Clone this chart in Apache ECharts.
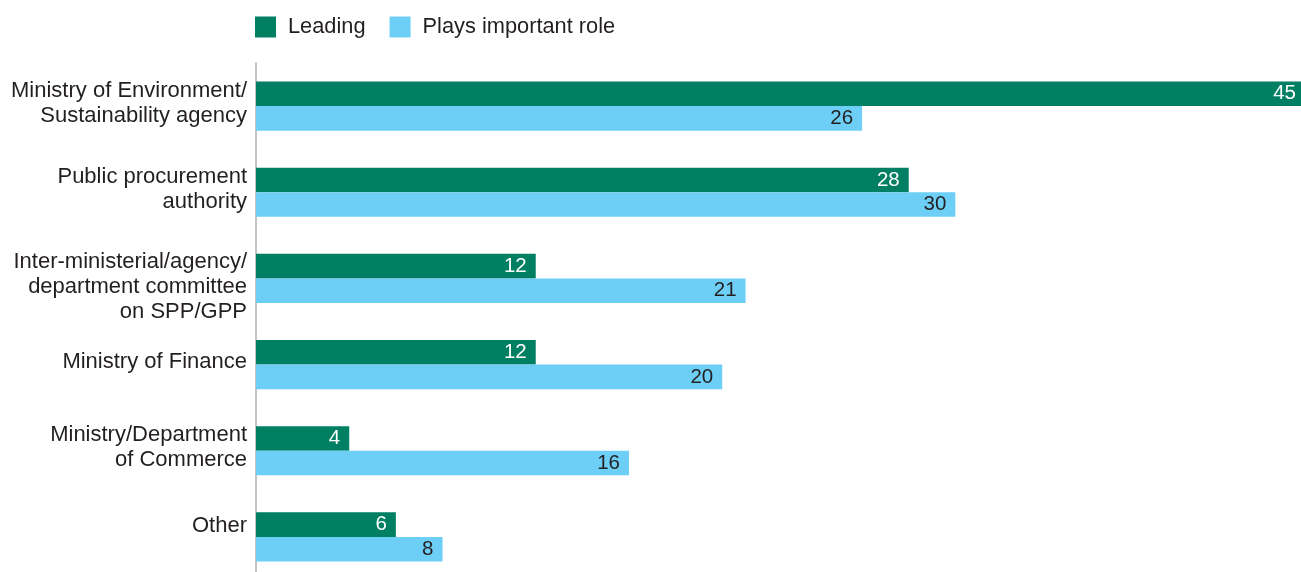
<!DOCTYPE html>
<html>
<head>
<meta charset="utf-8">
<script src="https://cdn.jsdelivr.net/npm/echarts@6/dist/echarts.min.js"></script>
<style>
html,body{margin:0;padding:0;background:#fff;}
#chart{width:1301px;height:572px;}
</style>
</head>
<body>
<div id="chart"></div>
<script>
const categories = [
  'Ministry of Environment/\nSustainability agency',
  'Public procurement\nauthority',
  'Inter-ministerial/agency/\ndepartment committee\non SPP/GPP',
  'Ministry of Finance',
  'Ministry/Department\nof Commerce',
  'Other'
];
const leading = [45, 28, 12, 12, 4, 6];
const important = [26, 30, 21, 20, 16, 8];
const seriesNames = ['Leading', 'Plays important role'];

const FONT = "'Liberation Sans', Arial, Helvetica, sans-serif";
const chart = echarts.init(document.getElementById('chart'));
chart.setOption({
  animation: false,
  legend: {
    top: 16,
    left: 255,
    padding: 0,
    itemWidth: 21,
    itemHeight: 21,
    itemGap: 24,
    icon: 'rect',
    textStyle: { fontFamily: FONT, fontSize: 21.8, color: '#231f20', padding: [0, 0, 0, 7] },
    data: seriesNames
  },
  grid: { left: 256, top: 63, width: 1049, height: 517, containLabel: false, outerBoundsMode: 'none' },
  xAxis: {
    type: 'value', min: 0, max: 45,
    show: false
  },
  yAxis: {
    type: 'category',
    data: categories,
    inverse: true,
    axisLine: { show: true, lineStyle: { color: '#c2c2c8', width: 2 } },
    axisTick: { show: false },
    axisLabel: {
      fontFamily: FONT, fontSize: 22, color: '#231f20', margin: 9,
      lineHeight: 25, align: 'right', padding: [0, 0, 6, 0],
      formatter: function (v) {
        if (v === 'Other') return '{o|' + v + '}';
        const lines = v.split('\n');
        if (lines.length === 3) {
          return lines.map(function (l) { return '{d|' + l + '}'; }).join('\n');
        }
        return v;
      },
      rich: {
        o: { fontFamily: FONT, fontSize: 22, color: '#231f20', lineHeight: 25, padding: [0, 0, 16, 0] },
        d: { fontFamily: FONT, fontSize: 22, color: '#231f20', lineHeight: 25, padding: [24, 0, 0, 0] }
      }
    }
  },
  series: [
    {
      name: seriesNames[0], type: 'bar', data: leading,
      barWidth: 24.6, barGap: '0%',
      itemStyle: { color: '#007f63' },
      label: { show: true, position: 'insideRight', distance: 9, color: '#ffffff', fontFamily: FONT, fontSize: 20.5 }
    },
    {
      name: seriesNames[1], type: 'bar', data: important,
      barWidth: 24.6, barGap: '0%',
      itemStyle: { color: '#6dcff6' },
      label: { show: true, position: 'insideRight', distance: 9, color: '#231f20', fontFamily: FONT, fontSize: 20.5 }
    }
  ]
});
</script>
</body>
</html>
